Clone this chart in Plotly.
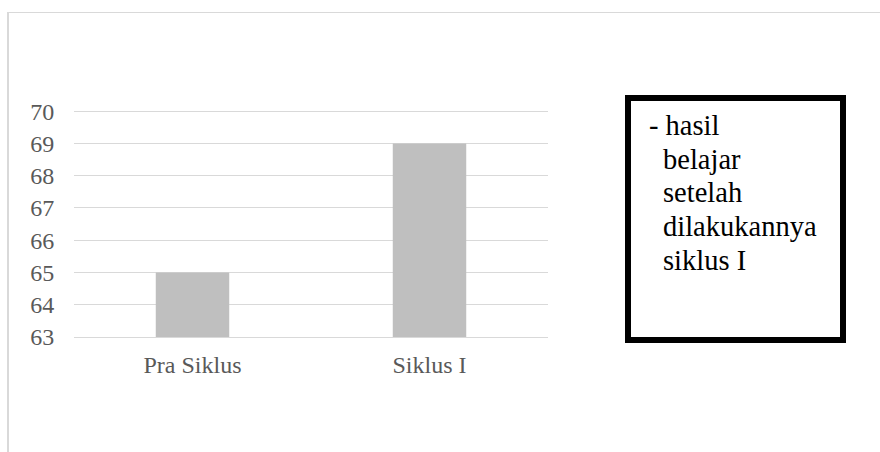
import plotly.graph_objects as go

categories = ["Pra Siklus", "Siklus I"]
values = [65, 69]
y_ticks = [63, 64, 65, 66, 67, 68, 69, 70]
note_lines = ["- hasil", "belajar", "setelah", "dilakukannya", "siklus I"]

FONT = "'Liberation Serif', 'Times New Roman', serif"

# plot area in pixels
L, R, T, B = 74, 548, 108, 337
W, H = 880, 452
pw, ph = R - L, B - T

def px(x):
    return (x - L) / pw

def py(y):
    return (B - y) / ph

fig = go.Figure(go.Bar(
    x=categories, y=values, marker=dict(color="#bfbfbf", line=dict(width=0)),
    width=0.31,
))

NOTE_SIZE = 28.5
annotations = []
for i, line in enumerate(note_lines):
    baseline = 135 + i * 33.8
    annotations.append(dict(
        xref="paper", yref="paper",
        x=px(648 if i == 0 else 661.5), y=py(baseline - 0.3375 * NOTE_SIZE),
        xanchor="left", yanchor="middle", align="left", showarrow=False,
        borderpad=0, text=line,
        font=dict(family=FONT, size=NOTE_SIZE, color="black"),
    ))

fig.update_layout(
    width=W, height=H,
    margin=dict(l=L, r=W - R, t=T, b=H - B, pad=0),
    paper_bgcolor="white", plot_bgcolor="white",
    showlegend=False,
    font=dict(family=FONT, color="#595959", size=24),
    xaxis=dict(
        showgrid=False, showline=True, linecolor="#d9d9d9", linewidth=1,
        ticks="outside", ticklen=6, tickcolor="rgba(0,0,0,0)",
        tickfont=dict(size=24, color="#595959", family=FONT),
        range=[-0.5, 1.5],
    ),
    yaxis=dict(
        range=[63, 70.1], tickvals=y_ticks, showgrid=True, gridcolor="#d9d9d9",
        gridwidth=1, zeroline=False, showline=False,
        ticks="outside", ticklen=14, tickcolor="rgba(0,0,0,0)",
        tickfont=dict(size=24, color="#595959", family=FONT),
    ),
    shapes=[
        dict(type="line", xref="paper", yref="paper", x0=px(8), x1=px(880), y0=py(12.5), y1=py(12.5),
             line=dict(color="#d9d9d9", width=1)),
        dict(type="line", xref="paper", yref="paper", x0=px(8), x1=px(8), y0=py(12), y1=py(452),
             line=dict(color="#d9d9d9", width=2)),
        dict(type="rect", xref="paper", yref="paper", x0=px(628), x1=px(843), y0=py(340), y1=py(98),
             line=dict(color="black", width=6), fillcolor="rgba(0,0,0,0)"),
    ],
    annotations=annotations,
)

fig.write_html("out.html")
